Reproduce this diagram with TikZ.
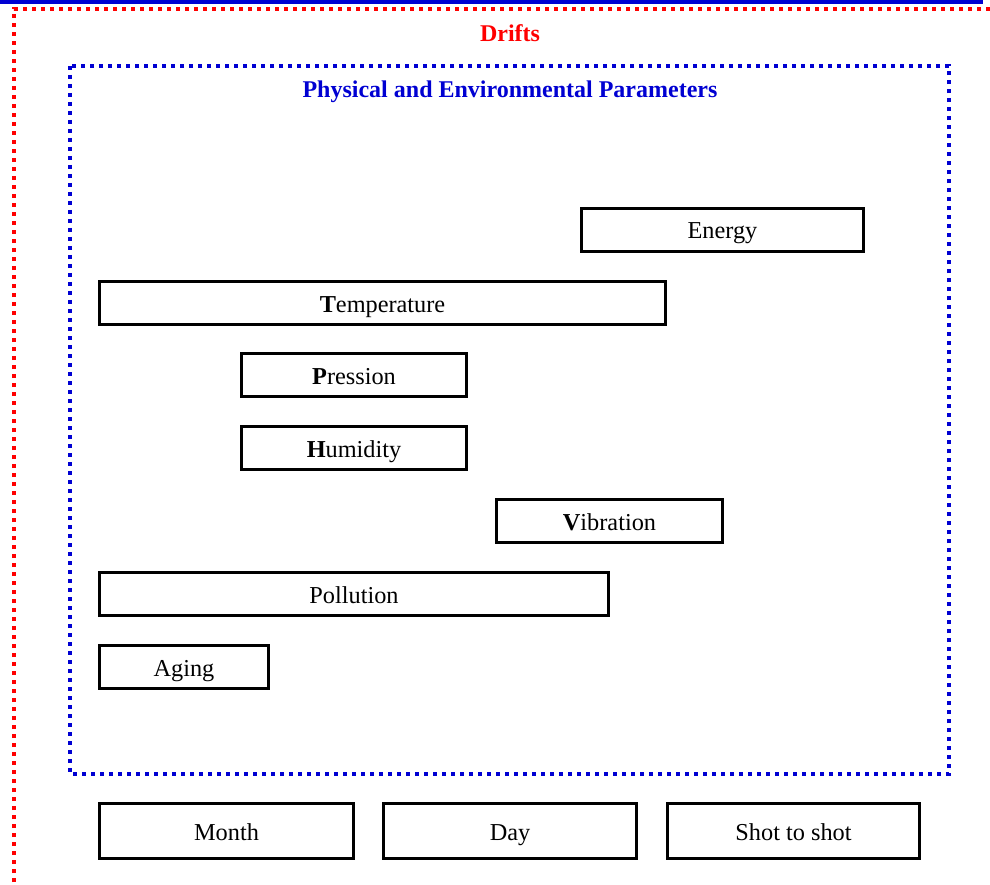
\documentclass[tikz,border=0pt]{standalone}
\usepackage{fontspec}
\setmainfont{Liberation Serif}
\definecolor{dblue}{RGB}{0,0,210}
\definecolor{dred}{RGB}{255,0,0}
\begin{document}
\begin{tikzpicture}[x=1pt,y=-1pt,
  bar/.style={draw=black,line width=3pt,fill=white,inner sep=0pt,text height=18pt,text depth=0pt,font=\fontsize{24.3}{28}\selectfont},
  dotred/.style={draw=dred,line width=4pt,dash pattern=on 4pt off 5pt},
  dotblue/.style={draw=dblue,line width=4pt,dash pattern=on 4pt off 5pt}]
\useasboundingbox (0,0) rectangle (990,885);
\fill[dblue] (0,0) rectangle (983,4);
\draw[dotred] (14,900) -- (14,9) -- (1000,9);
\draw[dotblue] (70,66) rectangle (949,774);
\node[font=\bfseries\fontsize{24}{28}\selectfont,text=dred,anchor=base] (drifts) at (510,42) {Drifts};
\node[font=\bfseries\fontsize{24}{28}\selectfont,text=dblue,anchor=base] (phys) at (510,98) {Physical and Environmental Parameters};
\newcommand{\barbox}[6]{\node[bar,minimum width={#4-#2-3},minimum height={#5-#3-3}] (#1) at ({(#2+#4)/2},{(#3+#5)/2}) {#6};}
\barbox{energy}{580}{207}{865}{253}{Energy}
\barbox{temp}{98}{280}{667}{326}{\textbf{T}emperature}
\barbox{press}{240}{352}{468}{398}{\textbf{P}ression}
\barbox{hum}{240}{425}{468}{471}{\textbf{H}umidity}
\barbox{vib}{495}{498}{724}{544}{\textbf{V}ibration}
\barbox{poll}{98}{571}{610}{617}{Pollution}
\barbox{aging}{98}{644}{270}{690}{Aging}
\barbox{month}{98}{802}{355}{860}{Month}
\barbox{day}{382}{802}{638}{860}{Day}
\barbox{shot}{666}{802}{921}{860}{Shot to shot}
\end{tikzpicture}
\end{document}
